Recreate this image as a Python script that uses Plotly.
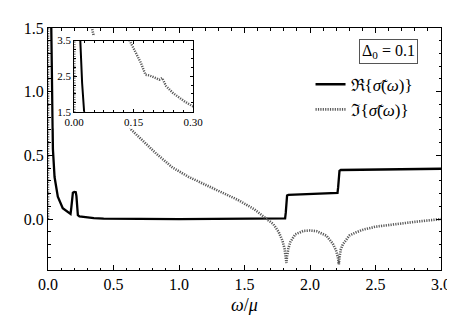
import plotly.graph_objects as go

# ---- data ----
omega_re = [0.005, 0.01, 0.015, 0.02, 0.025, 0.03, 0.0375, 0.05, 0.075, 0.1125,
            0.1625, 0.172, 0.178, 0.183, 0.19, 0.20, 0.212, 0.217, 0.222, 0.228,
            0.24, 0.30, 0.35, 0.425, 0.5, 0.7, 1.0, 1.5, 1.80, 1.81, 1.815, 1.82,
            1.825, 1.835, 2.0, 2.20, 2.21, 2.215, 2.22, 2.225, 2.235, 2.5, 3.0]
re_sigma = [20, 8, 3.6, 2.3, 1.5, 1.0, 0.55, 0.33, 0.175, 0.085,
            0.042, 0.04, 0.09, 0.18, 0.207, 0.213, 0.21, 0.18, 0.08, 0.03,
            0.02, 0.01, 0.007, 0.004, 0.002, 0.001, 0.0, 0.0, 0.0, 0.005, 0.05, 0.16,
            0.185, 0.19, 0.195, 0.2, 0.205, 0.25, 0.35, 0.378, 0.385, 0.39, 0.395]

omega_im = [0, 0.0018, 0.005, 0.01, 0.02, 0.03, 0.05, 0.08, 0.10, 0.12, 0.14,
            0.153, 0.169, 0.18, 0.19, 0.205, 0.215, 0.222, 0.232, 0.25, 0.264,
            0.28, 0.30, 0.34, 0.40, 0.50, 0.6375, 0.825, 0.95, 1.075, 1.2, 1.325,
            1.45, 1.575, 1.675, 1.72, 1.76, 1.79, 1.805, 1.815, 1.82, 1.825, 1.835,
            1.85, 1.8875, 1.95, 2.0, 2.05, 2.125, 2.175, 2.20, 2.215, 2.22, 2.225,
            2.235, 2.25, 2.30, 2.35, 2.4, 2.5, 2.65, 2.8, 3.0]
im_sigma = [0, 130, 90, 49, 24.5, 16.3, 9.8, 6.1, 4.9, 4.1, 3.5,
            3.22, 2.86, 2.54, 2.52, 2.45, 2.40, 2.45, 2.22, 2.02, 1.90,
            1.78, 1.65, 1.47, 1.22, 0.96, 0.70, 0.515, 0.405, 0.33, 0.27, 0.213,
            0.15, 0.077, 0.0, -0.04, -0.10, -0.17, -0.23, -0.29, -0.345, -0.29, -0.23,
            -0.18, -0.12, -0.093, -0.09, -0.095, -0.13, -0.195, -0.25, -0.31, -0.356, -0.30,
            -0.24, -0.2, -0.13, -0.105, -0.085, -0.06, -0.04, -0.022, 0.0]

x_ticks = [0.0, 0.5, 1.0, 1.5, 2.0, 2.5, 3.0]
y_ticks = [0.0, 0.5, 1.0, 1.5]
inset_x_ticks = [0.0, 0.15, 0.30]
inset_y_ticks = [1.5, 2.5, 3.5]

name_re = "ℜ{<i>σ̃</i>(<i>ω</i>)}"
name_im = "ℑ{<i>σ̃</i>(<i>ω</i>)}"
label_delta = "Δ<sub>0</sub> = 0.1"

SERIF = "Liberation Serif"
GREY = "#5a5a5a"

fig = go.Figure()
fig.add_trace(go.Scatter(x=omega_re, y=re_sigma, mode="lines", name=name_re,
                         line=dict(color="black", width=2.3), xaxis="x", yaxis="y"))
fig.add_trace(go.Scatter(x=omega_im, y=im_sigma, mode="lines", name=name_im,
                         line=dict(color=GREY, width=2.6, dash="1.2px,1.2px"),
                         xaxis="x", yaxis="y"))
# empty trace that creates the white backdrop subplot behind the inset
fig.add_trace(go.Scatter(x=[], y=[], xaxis="x2", yaxis="y2", showlegend=False,
                         hoverinfo="skip"))
fig.add_trace(go.Scatter(x=omega_re, y=re_sigma, mode="lines", showlegend=False,
                         line=dict(color="black", width=2), xaxis="x3", yaxis="y3"))
fig.add_trace(go.Scatter(x=omega_im, y=im_sigma, mode="lines", showlegend=False,
                         line=dict(color=GREY, width=2.4, dash="1.2px,1.2px"),
                         xaxis="x3", yaxis="y3"))

axis_common = dict(showline=True, linecolor="black", linewidth=1, mirror="ticks",
                   ticks="inside", tickcolor="black", showgrid=False, zeroline=False)

fig.update_layout(
    width=455, height=316,
    margin=dict(l=40, r=15, t=17, b=51),
    paper_bgcolor="white", plot_bgcolor="white",
    font=dict(family=SERIF, color="black", size=15),
    xaxis=dict(range=[0, 3.0], tickvals=x_ticks, tickformat=".1f", ticklen=5,
               minor=dict(dtick=0.1, ticklen=2.5, ticks="inside", tickcolor="black"),
               title=dict(text="<i>ω</i>/<i>μ</i>", font=dict(size=18, family=SERIF),
                          standoff=6),
               tickfont=dict(size=16, family=SERIF), domain=[0, 1], anchor="y",
               **axis_common),
    yaxis=dict(range=[-0.4, 1.5], tickvals=y_ticks, tickformat=".1f", ticklen=5,
               minor=dict(dtick=0.1, ticklen=2.5, ticks="inside", tickcolor="black"),
               tickfont=dict(size=16, family=SERIF), domain=[0, 1], anchor="x",
               **axis_common),
    xaxis2=dict(range=[0, 1], domain=[0.015, 0.38], anchor="y2", visible=False),
    yaxis2=dict(range=[0, 1], domain=[0.585, 0.968], anchor="x2", visible=False),
    xaxis3=dict(range=[0, 0.30], tickvals=inset_x_ticks, tickformat=".2f", ticklen=3,
                minor=dict(dtick=0.025, ticklen=2, ticks="inside", tickcolor="black"),
                tickfont=dict(size=11, family=SERIF), domain=[0.0667, 0.369],
                anchor="y3", **axis_common),
    yaxis3=dict(range=[1.5, 3.5], tickvals=inset_y_ticks, tickformat=".1f", ticklen=3,
                minor=dict(dtick=0.25, ticklen=2, ticks="inside", tickcolor="black"),
                tickfont=dict(size=11, family=SERIF), domain=[0.654, 0.948],
                anchor="x3", **axis_common),
    legend=dict(x=0.668, y=0.84, xanchor="left", yanchor="top",
                bgcolor="rgba(0,0,0,0)", font=dict(size=17, family=SERIF),
                itemwidth=30, tracegroupgap=0),
    shapes=[dict(type="rect", xref="x2", yref="y2", x0=0, x1=1, y0=0, y1=1,
                 fillcolor="white", line=dict(width=0), layer="below")],
    annotations=[dict(text=label_delta, xref="paper", yref="paper", x=0.866, y=0.904,
                      xanchor="center", yanchor="middle", showarrow=False,
                      font=dict(size=16, family=SERIF), bordercolor="#555555",
                      borderwidth=1, borderpad=2, bgcolor="white")],
)

fig.write_html("out.html")
